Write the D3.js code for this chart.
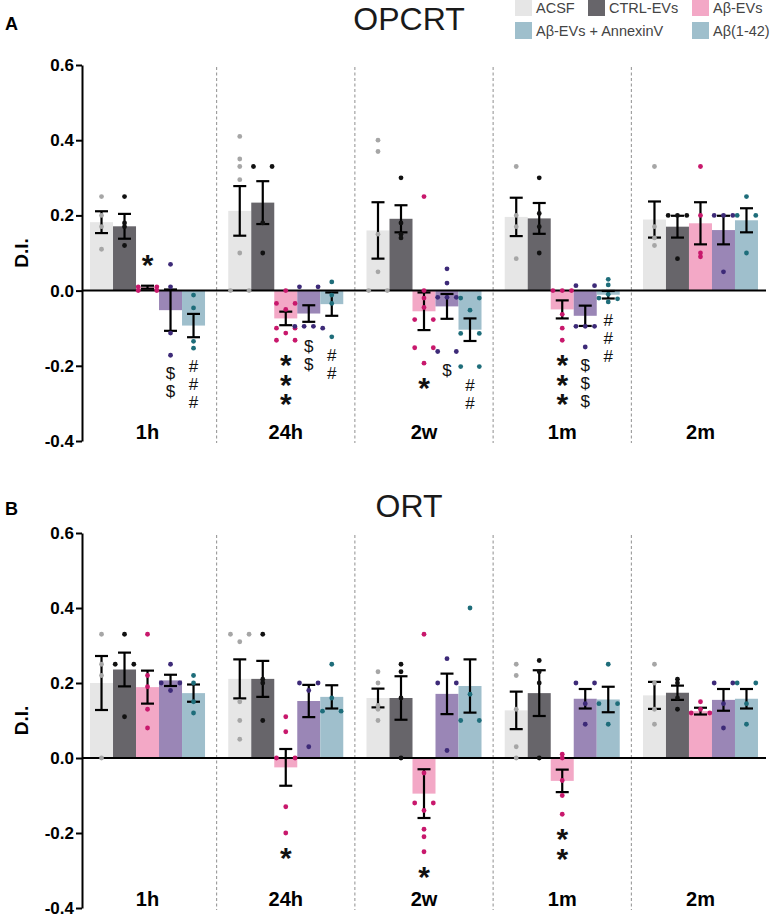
<!DOCTYPE html>
<html>
<head>
<meta charset="utf-8">
<script src="https://cdn.jsdelivr.net/npm/d3@7"></script>
<style>
  body { margin: 0; background: #ffffff; }
  text { font-family: "Liberation Sans", Arial, sans-serif; }
</style>
</head>
<body>
<div id="chart"></div>
<script>
// Values (D.I. per group). Rows = series, columns = time points.
const groups = ["1h", "24h", "2w", "1m", "2m"];
const series = ["ACSF", "CTRL-EVs", "Aβ-EVs", "Aβ-EVs + AnnexinV", "Aβ(1-42)"];
const yTicks = [-0.4, -0.2, 0.0, 0.2, 0.4, 0.6];

// Panel A - OPCRT
const opcrtMean = [
    [0.182, 0.212, 0.160, 0.196, 0.189],
    [0.171, 0.234, 0.191, 0.192, 0.170],
    [0.009, -0.074, -0.055, -0.050, 0.179],
    [-0.052, -0.061, -0.042, -0.067, 0.161],
    [-0.093, -0.036, -0.104, -0.011, 0.187]
];
const opcrtSem = [
    [0.029, 0.066, 0.075, 0.051, 0.048],
    [0.033, 0.057, 0.036, 0.041, 0.029],
    [0.004, 0.018, 0.050, 0.024, 0.056],
    [0.055, 0.022, 0.033, 0.027, 0.038],
    [0.031, 0.031, 0.030, 0.010, 0.032]
];
const opcrtDots = [
    [[0.25, 0.20, 0.17, 0.11], [0.41, 0.35, 0.33, 0.295, 0.10, 0, 0], [0.40, 0.37, 0.15, 0.05, 0, 0], [0.33, 0.20, 0.17, 0.085], [0.33, 0.17, 0.14, 0.12]],
    [[0.25, 0.18, 0.17, 0.12], [0.33, 0.33, 0.18, 0.10], [0.30, 0.18, 0.15, 0.14], [0.30, 0.205, 0.17, 0.10], [0.20, 0.20, 0.20, 0.085]],
    [[0.01, 0.01, 0, 0], [0, -0.034, -0.034, -0.05, -0.10, -0.10, -0.113, -0.132, -0.132], [0.25, 0, -0.02, -0.045, -0.077, -0.077, -0.152, -0.152, -0.193], [0, 0, 0, -0.063, -0.10, -0.132], [0.33, 0.20, 0.10, 0.09]],
    [[0.07, 0.01, -0.113, -0.172], [0.01, 0.01, -0.095, -0.095, -0.095, -0.10], [0.058, 0.02, -0.018, -0.018, -0.018, -0.162, -0.162], [0.013, 0.013, -0.095, -0.095, -0.095, -0.15], [0.20, 0.20, 0.20, 0.05]],
    [[-0.012, -0.046, -0.135, -0.153], [0.023, -0.012, -0.034, -0.123], [-0.02, -0.02, -0.052, -0.114, -0.114, -0.202, -0.202], [0.03, 0.015, -0.01, -0.02, -0.022, -0.03], [0.25, 0.20, 0.20, 0.10]]
];
const opcrtMarks = [
    { group: "1h", s: 2, text: "*", count: 1, above: true },
    { group: "1h", s: 3, text: "$", count: 2 },
    { group: "1h", s: 4, text: "#", count: 3 },
    { group: "24h", s: 2, text: "*", count: 3 },
    { group: "24h", s: 3, text: "$", count: 2 },
    { group: "24h", s: 4, text: "#", count: 2 },
    { group: "2w", s: 2, text: "*", count: 1 },
    { group: "2w", s: 3, text: "$", count: 1 },
    { group: "2w", s: 4, text: "#", count: 2 },
    { group: "1m", s: 2, text: "*", count: 3 },
    { group: "1m", s: 3, text: "$", count: 3 },
    { group: "1m", s: 4, text: "#", count: 3 }
];

// Panel B - ORT
const ortMean = [
    [0.200, 0.211, 0.160, 0.127, 0.167],
    [0.236, 0.211, 0.160, 0.173, 0.174],
    [0.189, -0.025, -0.095, -0.061, 0.125],
    [0.207, 0.152, 0.171, 0.158, 0.155],
    [0.173, 0.163, 0.192, 0.156, 0.158]
];
const ortSem = [
    [0.072, 0.052, 0.025, 0.050, 0.036],
    [0.045, 0.048, 0.058, 0.061, 0.019],
    [0.044, 0.049, 0.065, 0.030, 0.009],
    [0.015, 0.043, 0.054, 0.026, 0.029],
    [0.023, 0.031, 0.071, 0.034, 0.026]
];
const ortDots = [
    [[0.33, 0.25, 0.22, 0], [0.33, 0.33, 0.31, 0.15, 0.10, 0.05], [0.23, 0.20, 0.14, 0.13, 0.10], [0.25, 0.22, 0.13, 0.03, 0], [0.25, 0.20, 0.13, 0.09]],
    [[0.33, 0.25, 0.25, 0.11], [0.33, 0.21, 0.20, 0.10], [0.25, 0.23, 0.16, 0], [0.26, 0.23, 0.20, 0], [0.21, 0.20, 0.16, 0.13]],
    [[0.33, 0.22, 0.19, 0.13, 0.08], [0.11, 0.07, 0, 0, -0.13, -0.20], [0.33, -0.04, -0.12, -0.12, -0.14, -0.19, -0.21, -0.25], [0.01, 0, -0.06, -0.10, -0.15], [0.15, 0.13, 0.12, 0.12]],
    [[0.25, 0.20, 0.20, 0.18], [0.20, 0.20, 0.18, 0.03], [0.265, 0.20, 0.20, 0.02], [0.20, 0.20, 0.145, 0.09], [0.20, 0.20, 0.145, 0.08]],
    [[0.22, 0.20, 0.15, 0.12], [0.25, 0.16, 0.125, 0.125], [0.40, 0.17, 0.10, 0.10], [0.25, 0.145, 0.145, 0.09], [0.20, 0.20, 0.145, 0.09]]
];
const ortMarks = [
    { group: "24h", s: 2, text: "*", count: 1 },
    { group: "2w", s: 2, text: "*", count: 1 },
    { group: "1m", s: 2, text: "*", count: 2 }
];

// Styling
var width = 771;
var height = 917;
var barColors = ["#e6e6e6", "#67656a", "#f3a8c6", "#9a86b6", "#9fbfcc"];
var dotColors = ["#a6a6a6", "#111111", "#c8186c", "#3d2a78", "#1e6d7a"];
var legendColors = ["#e6e6e6", "#67656a", "#f3a8c6", "#9fbfcc", "#9fbfcc"];
var xRange = [82, 766];

var svg = d3.select("#chart").append("svg")
    .attr("width", width)
    .attr("height", height);

var x0 = d3.scaleBand()
    .domain(groups)
    .range(xRange)
    .paddingInner(0.168)
    .paddingOuter(0.058);
var x1 = d3.scaleBand()
    .domain(d3.range(series.length))
    .range([0, x0.bandwidth()]);

// spreads dots with (nearly) equal values sideways, like a scatter column
function spread(vals, y, step) {
    const sorted = vals.map(v => ({ v: v, py: y(v) })).sort((a, b) => a.py - b.py);
    const out = [];
    let cluster = [];
    function flush() {
        const n = cluster.length;
        cluster.forEach((d, k) => {
            d.dx = n === 2 ? (k === 0 ? -step : step) : (k - (n - 1) / 2) * step;
            out.push(d);
        });
        cluster = [];
    }
    sorted.forEach(d => {
        if (cluster.length && d.py - cluster[0].py > 3) flush();
        cluster.push(d);
    });
    flush();
    return out;
}

function drawPanel(cfg) {
    const y = d3.scaleLinear().domain([-0.4, 0.6]).range([cfg.bottom, cfg.top]);
    const g = svg.append("g");

    // panel letter and title
    g.append("text").attr("x", 5).attr("y", cfg.letterY)
        .attr("font-size", 18).attr("font-weight", "bold").text(cfg.letter);
    g.append("text").attr("x", 409).attr("y", cfg.titleY)
        .attr("text-anchor", "middle").attr("font-size", 32).attr("fill", "#1a1a1a")
        .text(cfg.title);

    // dashed separators between time points
    const gap = x0.step() - x0.bandwidth();
    groups.slice(1).forEach(gr => {
        g.append("line")
            .attr("x1", x0(gr) - gap / 2).attr("x2", x0(gr) - gap / 2)
            .attr("y1", y(0.6) + 2).attr("y2", y(-0.4) + 2)
            .attr("stroke", "#8f8f8f").attr("stroke-width", 1)
            .attr("stroke-dasharray", "3,2.5");
    });

    // bars
    series.forEach((s, i) => {
        groups.forEach((gr, j) => {
            const m = cfg.mean[i][j];
            g.append("rect")
                .attr("x", x0(gr) + x1(i))
                .attr("y", y(Math.max(0, m)))
                .attr("width", x1.bandwidth())
                .attr("height", Math.abs(y(m) - y(0)))
                .attr("fill", barColors[i]);
        });
    });

    // error bars (mean +/- SEM)
    series.forEach((s, i) => {
        groups.forEach((gr, j) => {
            const cx = x0(gr) + x1(i) + x1.bandwidth() / 2;
            const hi = cfg.mean[i][j] + cfg.sem[i][j];
            const lo = cfg.mean[i][j] - cfg.sem[i][j];
            const eb = g.append("g").attr("stroke", "#000").attr("stroke-width", 2.2);
            eb.append("line").attr("x1", cx).attr("x2", cx).attr("y1", y(hi)).attr("y2", y(lo));
            eb.append("line").attr("x1", cx - 6.5).attr("x2", cx + 6.5).attr("y1", y(hi)).attr("y2", y(hi));
            eb.append("line").attr("x1", cx - 6.5).attr("x2", cx + 6.5).attr("y1", y(lo)).attr("y2", y(lo));
        });
    });

    // x axis line at zero
    g.append("line")
        .attr("x1", xRange[0]).attr("x2", xRange[1])
        .attr("y1", y(0)).attr("y2", y(0))
        .attr("stroke", "#000").attr("stroke-width", 2);

    // individual animals
    series.forEach((s, i) => {
        groups.forEach((gr, j) => {
            const cx = x0(gr) + x1(i) + x1.bandwidth() / 2;
            g.append("g").selectAll("circle")
                .data(spread(cfg.dots[i][j], y, 9.3))
                .enter()
                .append("circle")
                .attr("cx", d => cx + d.dx)
                .attr("cy", d => d.py)
                .attr("r", 2.4)
                .attr("fill", dotColors[i]);
        });
    });

    // significance symbols, one stacked text per bar
    cfg.marks.forEach(mk => {
        const i = mk.s;
        const j = groups.indexOf(mk.group);
        const cx = x0(mk.group) + x1(i) + x1.bandwidth() / 2;
        const vals = cfg.dots[i][j];
        const isStar = mk.text === "*";
        const stepY = isStar ? 19.5 : 18;
        let cy;
        if (mk.above) {
            cy = y(Math.max(d3.max(vals), cfg.mean[i][j] + cfg.sem[i][j])) - 28;
        } else {
            cy = Math.max(y(d3.min(vals)), y(cfg.mean[i][j] - cfg.sem[i][j])) + 18;
        }
        const t = g.append("text")
            .attr("x", cx)
            .attr("y", isStar ? cy + 17 : cy + 6)
            .attr("text-anchor", "middle")
            .attr("font-size", isStar ? 30 : 17)
            .attr("font-weight", isStar ? "bold" : "normal")
            .attr("fill", "#111");
        d3.range(mk.count).forEach(k => {
            t.append("tspan")
                .attr("x", cx)
                .attr("dy", k === 0 ? 0 : stepY)
                .text(mk.text);
        });
    });

    // y axis
    const yAxis = g.append("g")
        .attr("transform", `translate(${xRange[0]},0)`)
        .call(d3.axisLeft(y)
            .tickValues(yTicks)
            .tickSize(6)
            .tickSizeOuter(0)
            .tickPadding(2)
            .tickFormat(d => d.toFixed(1)));
    yAxis.select(".domain").attr("stroke-width", 2);
    yAxis.selectAll(".tick line").attr("stroke-width", 2);
    yAxis.selectAll(".tick text")
        .attr("font-size", 17).attr("font-weight", "bold").attr("fill", "#000")
        .style("font-family", "\"Liberation Sans\", Arial, sans-serif");

    g.append("text")
        .attr("transform", `translate(28,${y(0.1)}) rotate(-90)`)
        .attr("text-anchor", "middle")
        .attr("font-size", 19).attr("font-weight", "bold")
        .text("D.I.");

    // time point labels
    groups.forEach(gr => {
        g.append("text")
            .attr("x", x0(gr) + x0.bandwidth() / 2)
            .attr("y", y(-0.4) - 2)
            .attr("text-anchor", "middle")
            .attr("font-size", 20).attr("font-weight", "bold")
            .text(gr);
    });
}

drawPanel({ letter: "A", letterY: 30, title: "OPCRT", titleY: 30, top: 65, bottom: 441,
    mean: opcrtMean, sem: opcrtSem, dots: opcrtDots, marks: opcrtMarks });
drawPanel({ letter: "B", letterY: 515, title: "ORT", titleY: 517, top: 533, bottom: 908,
    mean: ortMean, sem: ortSem, dots: ortDots, marks: ortMarks });

// legend (top right, two rows)
var legendItems = [
    { i: 0, x: 515, row: 0 }, { i: 1, x: 588, row: 0 }, { i: 2, x: 692, row: 0 },
    { i: 3, x: 515, row: 1 }, { i: 4, x: 692, row: 1 }
];
var legend = svg.append("g");
legendItems.forEach(d => {
    const top = d.row === 0 ? -1 : 22;
    legend.append("rect")
        .attr("x", d.x).attr("y", top)
        .attr("width", 17).attr("height", 17)
        .attr("fill", legendColors[d.i]);
    legend.append("text")
        .attr("x", d.x + 21).attr("y", top + 14)
        .attr("font-size", 14.5).attr("fill", "#444")
        .text(series[d.i]);
});
</script>
</body>
</html>
